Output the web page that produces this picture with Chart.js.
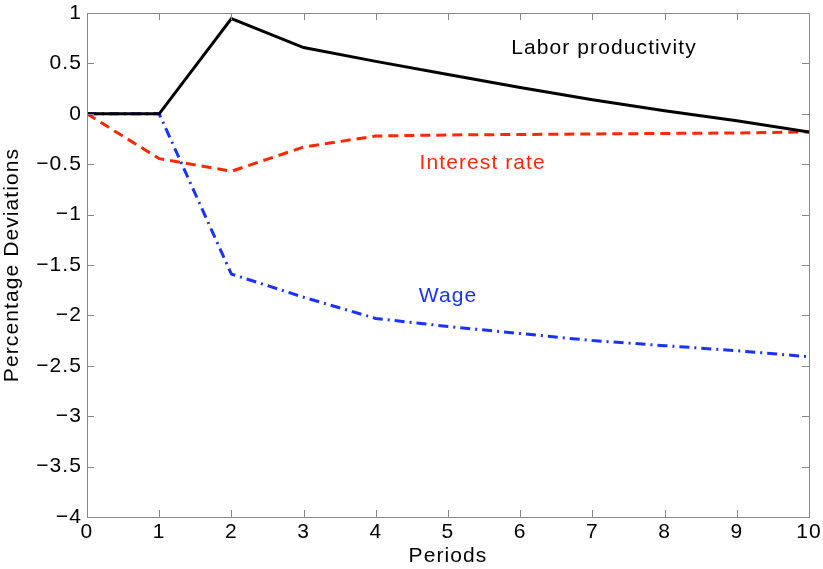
<!DOCTYPE html>
<html>
<head>
<meta charset="utf-8">
<script src="https://cdn.jsdelivr.net/npm/chart.js@4"></script>
<style>
  html, body { margin: 0; padding: 0; background: #fff; }
  #wrap { width: 823px; height: 569px; }
</style>
</head>
<body>
<div id="wrap"><canvas id="chart" width="823" height="569"></canvas></div>
<script>
// Impulse responses
const periods = [0, 1, 2, 3, 4, 5, 6, 7, 8, 9, 10];
const laborProductivity = [0, 0, 0.944, 0.657, 0.52, 0.39, 0.26, 0.14, 0.03, -0.07, -0.18];
const interestRate = [0, -0.445, -0.57, -0.33, -0.22, -0.21, -0.205, -0.2, -0.195, -0.19, -0.18];
const wage = [0, 0, -1.59, -1.82, -2.03, -2.11, -2.18, -2.25, -2.30, -2.35, -2.41];

const yTicks = [1, 0.5, 0, -0.5, -1, -1.5, -2, -2.5, -3, -3.5, -4];

// in-plot text labels: [text, x, y, colour]
const labels = [
    ['Labor productivity', 7.16, 0.65, '#000'],
    ['Interest rate', 5.48, -0.49, 'rgb(255,40,0)'],
    ['Wage', 5.0, -1.81, 'rgb(25,50,255)']
];

const FONT = 'Liberation Sans, Arial, Helvetica, sans-serif';
const SIZE = 21;

function points(ys) {
    return periods.map((p, i) => ({ x: p, y: ys[i] }));
}

// matlab text is a little wider than Arial
const spacing = {
    id: 'spacing',
    beforeLayout(chart) { chart.ctx.letterSpacing = '1.1px'; },
    beforeDraw(chart) { chart.ctx.letterSpacing = '1.1px'; }
};

// box + inward ticks like matlab axes, plus text labels
const matlabAxes = {
    id: 'matlabAxes',
    afterDatasetsDraw(chart) {
        const { ctx, chartArea: a, scales: { x, y } } = chart;
        ctx.save();
        ctx.strokeStyle = '#888';
        ctx.lineWidth = 1;
        ctx.strokeRect(a.left + 0.5, a.top + 0.5, a.right - a.left, a.bottom - a.top);
        ctx.beginPath();
        periods.forEach(p => {
            const px = Math.round(x.getPixelForValue(p)) + 0.5;
            ctx.moveTo(px, a.bottom); ctx.lineTo(px, a.bottom - 7);
            ctx.moveTo(px, a.top); ctx.lineTo(px, a.top + 7);
        });
        yTicks.forEach(t => {
            const py = Math.round(y.getPixelForValue(t)) + 0.5;
            ctx.moveTo(a.left, py); ctx.lineTo(a.left + 7, py);
            ctx.moveTo(a.right, py); ctx.lineTo(a.right - 7, py);
        });
        ctx.stroke();

        ctx.font = SIZE + 'px ' + FONT;
        ctx.textAlign = 'center';
        ctx.textBaseline = 'middle';
        labels.forEach(([txt, lx, ly, col]) => {
            ctx.fillStyle = col;
            ctx.fillText(txt, x.getPixelForValue(lx), y.getPixelForValue(ly));
        });
        ctx.restore();
    }
};

new Chart(document.getElementById('chart'), {
    type: 'line',
    data: {
        datasets: [
            {
                label: 'Labor productivity',
                data: points(laborProductivity),
                borderColor: '#000',
                borderWidth: 3,
                pointRadius: 0,
                tension: 0
            },
            {
                label: 'Interest rate',
                data: points(interestRate),
                borderColor: 'rgb(255,40,0)',
                borderWidth: 3,
                borderDash: [10, 6],
                pointRadius: 0,
                tension: 0
            },
            {
                label: 'Wage',
                data: points(wage),
                borderColor: 'rgb(25,50,255)',
                borderWidth: 3,
                borderDash: [10, 5, 2, 5],
                pointRadius: 0,
                tension: 0
            }
        ]
    },
    options: {
        responsive: false,
        animation: false,
        layout: { padding: { top: 13, right: 14, left: 0, bottom: 0 } },
        plugins: {
            legend: { display: false },
            tooltip: { enabled: false }
        },
        scales: {
            x: {
                type: 'linear',
                min: 0,
                max: 10,
                grid: { display: false, drawTicks: false },
                border: { display: false },
                ticks: {
                    stepSize: 1,
                    padding: 3,
                    color: '#000',
                    maxRotation: 0,
                    font: { family: FONT, size: SIZE }
                },
                title: {
                    display: true,
                    text: 'Periods',
                    color: '#000',
                    padding: 0,
                    font: { family: FONT, size: SIZE }
                },
                afterFit(scale) {
                    scale.height = 52;
                    scale.paddingLeft = 0;
                    scale.paddingRight = 0;
                }
            },
            y: {
                min: -4,
                max: 1,
                grid: { display: false, drawTicks: false },
                border: { display: false },
                afterBuildTicks(scale) {
                    scale.ticks = yTicks.map(v => ({ value: v }));
                },
                ticks: {
                    padding: 5,
                    color: '#000',
                    font: { family: FONT, size: SIZE },
                    callback: v => String(v).replace('-', '\u2212')
                },
                title: {
                    display: true,
                    text: 'Percentage Deviations',
                    color: '#000',
                    padding: 0,
                    font: { family: FONT, size: SIZE }
                },
                afterFit(scale) {
                    scale.width = 87;
                    scale.paddingTop = 0;
                    scale.paddingBottom = 0;
                }
            }
        }
    },
    plugins: [spacing, matlabAxes]
});
</script>
</body>
</html>
